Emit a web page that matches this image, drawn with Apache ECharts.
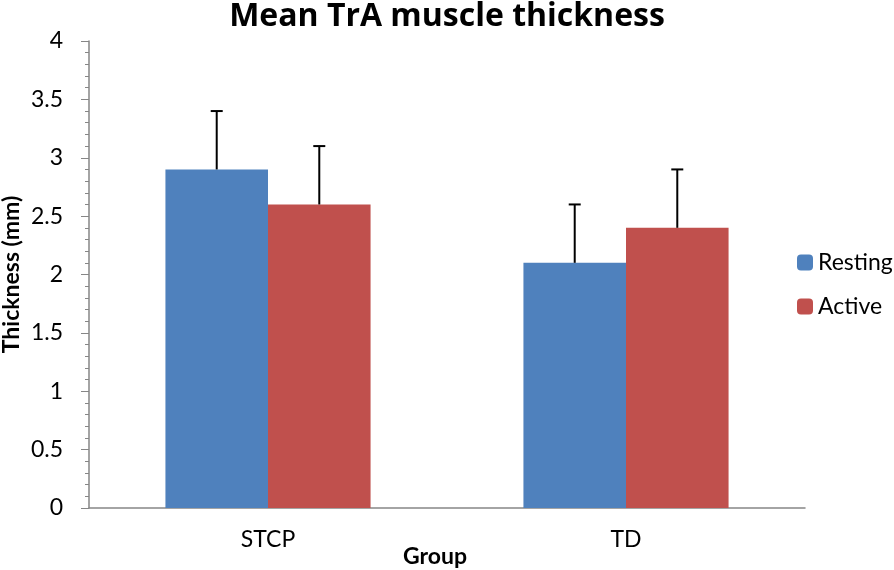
<!DOCTYPE html>
<html>
<head>
<meta charset="utf-8">
<script src="https://cdn.jsdelivr.net/npm/echarts@6/dist/echarts.min.js"></script>
<style>
  html, body { margin: 0; padding: 0; background: #fff; }
  #chart { width: 894px; height: 570px; }
</style>
</head>
<body>
<div id="chart"></div>
<script>
// data
var groups = ['STCP', 'TD'];
var resting = [2.9, 2.1];
var active = [2.6, 2.4];
var restingErr = [0.5, 0.5];
var activeErr = [0.5, 0.5];

var myChart = echarts.init(document.getElementById('chart'));
var font = 'Lato, "Open Sans", sans-serif';

// error bar drawing, offset = which bar in the group (-1 left, 1 right)
function errorBar(offset, values, errs) {
    return {
        type: 'custom',
        name: 'err' + offset,
        z: 10,
        renderItem: function (params, api) {
            var i = api.value(0);
            var base = api.coord([i, values[i]]);
            var top = api.coord([i, values[i] + errs[i]]);
            var bw = api.size([1, 0])[0] * (1 - 0.427) / 2;
            var x = base[0] + offset * bw / 2;
            var style = { stroke: '#000', lineWidth: 2 };
            return {
                type: 'group',
                children: [
                    { type: 'line', shape: { x1: x, y1: base[1], x2: x, y2: top[1] }, style: style },
                    { type: 'line', shape: { x1: x - 6, y1: top[1], x2: x + 6, y2: top[1] }, style: style }
                ]
            };
        },
        data: groups.map(function (g, i) { return [i]; })
    };
}

var option = {
    animation: false,
    title: {
        text: 'Mean TrA muscle thickness',
        left: 'center',
        top: -4,
        textStyle: { fontFamily: '"Open Sans", sans-serif', fontSize: 32, fontWeight: 'bold', color: '#000' }
    },
    legend: {
        orient: 'vertical',
        left: 792,
        top: 246,
        itemWidth: 16,
        itemHeight: 16,
        itemGap: 21,
        data: ['Resting', 'Active'],
        textStyle: { fontFamily: font, fontSize: 23, color: '#000' }
    },
    grid: { left: 89, right: 89, top: 41, bottom: 62, containLabel: false, outerBoundsMode: 'none' },
    xAxis: {
        type: 'category',
        data: groups,
        name: 'Group',
        nameLocation: 'middle',
        nameGap: 37,
        nameMoveOverlap: false,
        nameTextStyle: { fontFamily: font, fontSize: 23, fontWeight: 'bold', color: '#000', padding: [0, 24, 0, 0] },
        axisLine: { lineStyle: { color: '#868686', width: 1.5 } },
        axisTick: { length: 8, lineStyle: { color: '#868686' } },
        axisLabel: { fontFamily: font, fontSize: 23, color: '#000', margin: 20 }
    },
    yAxis: {
        type: 'value',
        min: 0,
        max: 4,
        interval: 0.5,
        name: 'Thickness (mm)',
        nameLocation: 'middle',
        nameGap: 66,
        nameMoveOverlap: false,
        nameTextStyle: { fontFamily: font, fontSize: 23, fontWeight: 'bold', color: '#000' },
        axisLine: { show: true, lineStyle: { color: '#868686', width: 1.5 } },
        axisTick: { show: true, length: 8, lineStyle: { color: '#868686' } },
        minorTick: { show: true, splitNumber: 5, length: 4, lineStyle: { color: '#868686' } },
        splitLine: { show: false },
        axisLabel: { fontFamily: font, fontSize: 23, color: '#000', margin: 26 }
    },
    series: [
        {
            name: 'Resting',
            type: 'bar',
            data: resting,
            barGap: 0,
            barCategoryGap: '42.7%',
            itemStyle: { color: '#4F81BD' }
        },
        {
            name: 'Active',
            type: 'bar',
            data: active,
            itemStyle: { color: '#C0504D' }
        },
        errorBar(-1, resting, restingErr),
        errorBar(1, active, activeErr)
    ]
};

myChart.setOption(option);
</script>
</body>
</html>
